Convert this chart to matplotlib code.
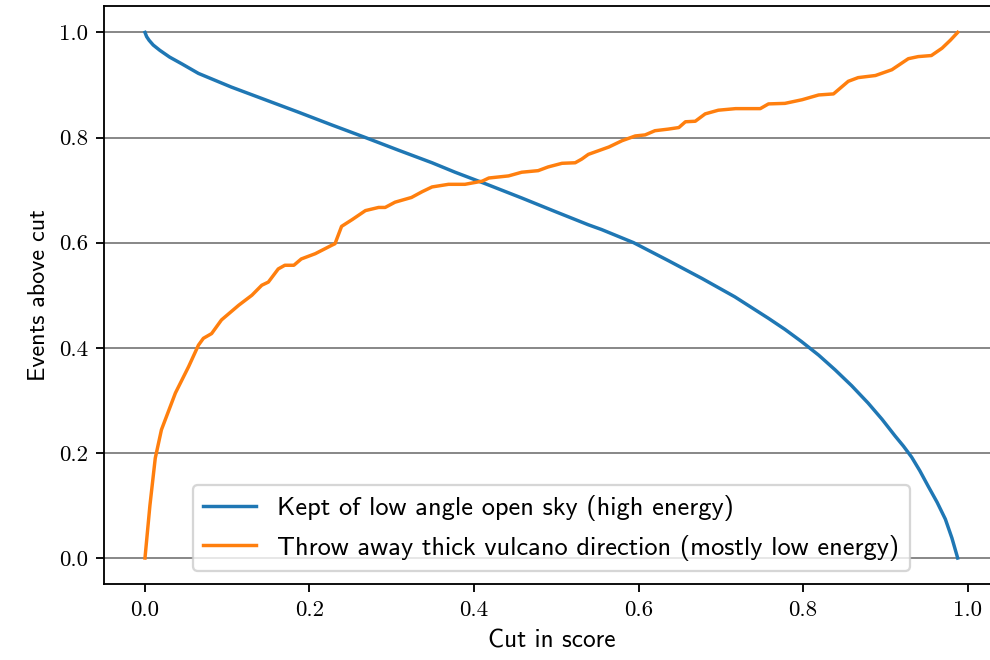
import matplotlib
matplotlib.use("Agg")
import matplotlib.pyplot as plt

# Data
kept_x = [0.0, 0.002, 0.005, 0.01, 0.018, 0.03, 0.045, 0.065, 0.105, 0.146, 0.187,
          0.227, 0.268, 0.308, 0.349, 0.377, 0.414, 0.458, 0.499, 0.539, 0.555,
          0.594, 0.636, 0.677, 0.717, 0.758, 0.778, 0.798, 0.819, 0.839, 0.859,
          0.879, 0.896, 0.912, 0.922, 0.932, 0.942, 0.952, 0.963, 0.973, 0.981,
          0.988]
kept_y = [1.0, 0.992, 0.985, 0.976, 0.966, 0.953, 0.94, 0.922, 0.896, 0.872, 0.848,
          0.824, 0.80, 0.776, 0.752, 0.734, 0.712, 0.685, 0.659, 0.634, 0.625,
          0.60, 0.566, 0.532, 0.497, 0.456, 0.435, 0.412, 0.386, 0.358, 0.328,
          0.295, 0.264, 0.232, 0.213, 0.192, 0.166, 0.137, 0.106, 0.074, 0.038,
          0.0]

thrown_x = [0.0, 0.006, 0.0125, 0.02, 0.037, 0.053, 0.065, 0.071, 0.081, 0.093,
            0.114, 0.13, 0.142, 0.15, 0.162, 0.17, 0.181, 0.19, 0.207, 0.227,
            0.231, 0.239, 0.252, 0.268, 0.284, 0.292, 0.304, 0.324, 0.337, 0.349,
            0.369, 0.389, 0.41, 0.418, 0.442, 0.458, 0.478, 0.49, 0.507, 0.523,
            0.531, 0.539, 0.564, 0.58, 0.596, 0.608, 0.62, 0.636, 0.649, 0.657,
            0.669, 0.681, 0.697, 0.718, 0.748, 0.758, 0.778, 0.799, 0.819, 0.837,
            0.855, 0.867, 0.888, 0.908, 0.928, 0.94, 0.956, 0.969, 0.979, 0.988]
thrown_y = [0.0, 0.10, 0.19, 0.244, 0.314, 0.364, 0.405, 0.418, 0.427, 0.453,
            0.481, 0.5, 0.519, 0.525, 0.55, 0.557, 0.557, 0.569, 0.579, 0.595,
            0.598, 0.631, 0.644, 0.661, 0.667, 0.667, 0.677, 0.686, 0.697, 0.706,
            0.711, 0.711, 0.717, 0.723, 0.727, 0.734, 0.737, 0.744, 0.751, 0.752,
            0.759, 0.768, 0.782, 0.794, 0.803, 0.805, 0.813, 0.816, 0.819, 0.83,
            0.831, 0.845, 0.852, 0.855, 0.855, 0.864, 0.865, 0.872, 0.881, 0.883,
            0.907, 0.914, 0.918, 0.929, 0.950, 0.954, 0.956, 0.97, 0.985, 1.0]

kept_label = "Kept of low angle open sky (high energy)"
thrown_label = "Throw away thick vulcano direction (mostly low energy)"

ticks = [0.0, 0.2, 0.4, 0.6, 0.8, 1.0]
tick_labels = ["0.0", "0.2", "0.4", "0.6", "0.8", "1.0"]

fig = plt.figure(figsize=(6, 4), dpi=165)
ax = fig.add_axes([0.1054, 0.1147, 0.903, 0.876])

ax.plot(kept_x, kept_y, color="tab:blue", label=kept_label)
ax.plot(thrown_x, thrown_y, color="tab:orange", label=thrown_label)

ax.yaxis.grid(True, color="gray", linewidth=0.8)
ax.set_axisbelow(True)

ax.set_xticks(ticks, labels=tick_labels, fontfamily="cmr10")
ax.set_yticks(ticks, labels=tick_labels, fontfamily="cmr10")

ax.set_xlabel("Cut in score", fontfamily="cmss10", fontsize=11)
ax.set_ylabel("Events above cut", fontfamily="cmss10", fontsize=10.5)
ax.legend(loc="lower center", prop={"family": "cmss10", "size": 11.5})

fig.savefig("out.png", dpi=165)
